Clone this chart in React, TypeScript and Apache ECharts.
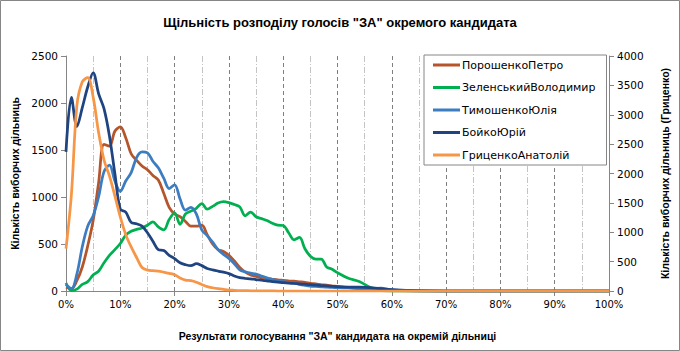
import React, { useEffect, useRef } from "react";
import * as echarts from "echarts";

const pcts = [
  0, 1, 2, 3, 4, 5, 6, 7, 8, 9, 10, 11, 12, 13, 14, 15, 16, 17, 18, 19, 20,
  21, 22, 23, 24, 25, 26, 27, 28, 29, 30, 31, 32, 33, 34, 35, 36, 37, 38, 39, 40,
  41, 42, 43, 44, 45, 46, 47, 48, 49, 50, 52, 54, 56, 58, 60, 65, 70, 75, 80, 85,
  90, 95, 100,
];

const poroshenko = [
  40, 25, 110, 255, 480, 750, 1150, 1560, 1540, 1700, 1745, 1630, 1460, 1390, 1330, 1290, 1230, 1180, 1040, 890, 820,
  790, 740, 690, 690, 700, 600, 500, 440, 420, 380, 320, 250, 200, 170, 155, 140, 132, 125, 118, 113,
  108, 104, 98, 92, 82, 75, 68, 62, 55, 48, 35, 25, 15, 8, 3, 0, 0, 0, 0, 0,
  0, 0, 0,
];

const zelensky = [
  85, 5, 20, 70, 100, 170, 210, 300, 380, 440, 505, 595, 636, 655, 670, 700, 735, 682, 650, 760, 830,
  710, 820, 850, 880, 930, 870, 900, 935, 950, 940, 920, 895, 800, 840, 790, 770, 750, 720, 700, 697,
  620, 545, 570, 450, 370, 340, 340, 255, 232, 195, 135, 100, 40, 5, 0, 0, 0, 0, 0, 0,
  0, 0, 0,
];

const tymoshenko = [
  70, 25, 180, 470, 690, 800, 1000, 1270, 1340, 1170, 1060, 1170, 1260, 1420, 1480, 1470, 1380, 1310, 1200, 1090, 1130,
  980, 860, 890, 820, 650, 590, 520, 440, 390, 345, 290, 225, 205, 190, 180, 160, 140, 125, 110, 100,
  92, 85, 70, 60, 52, 48, 44, 40, 38, 36, 32, 30, 28, 30, 12, 0, 0, 0, 0, 0,
  0, 0, 0,
];

const boyko = [
  1480, 2060, 1750, 1950, 2170, 2320, 2100, 1940, 1650, 1250, 870, 840, 730, 715, 690, 620, 530, 440, 430, 380, 345,
  300, 280, 270, 290, 270, 240, 225, 212, 200, 185, 160, 142, 135, 130, 122, 115, 108, 100, 95, 88,
  85, 80, 76, 72, 68, 62, 58, 54, 50, 46, 42, 40, 35, 25, 15, 3, 0, 0, 0, 0,
  0, 0, 0,
];

const hrytsenko = [
  720, 1650, 3150, 3560, 3630, 3300, 2700, 2230, 1960, 1620, 1260, 960, 750, 570, 400, 355, 345, 340, 320, 300, 278,
  220, 185, 175, 150, 110, 75, 55, 40, 28, 17, 12, 8, 6, 4, 3, 2, 2, 1, 0, 0,
  0, 0, 0, 0, 0, 0, 0, 0, 0, 0, 0, 0, 0, 0, 0, 0, 0, 0, 0, 0,
  0, 0, 0,
];

const seriesNames = [
  "ПорошенкоПетро",
  "ЗеленськийВолодимир",
  "ТимошенкоЮлія",
  "БойкоЮрій",
  "ГриценкоАнатолій",
];
const seriesValues = [poroshenko, zelensky, tymoshenko, boyko, hrytsenko];
const seriesAxis = [0, 0, 0, 0, 1];
const colors = ["#B5552C", "#00B050", "#3C7DC1", "#1F4480", "#F79646"];

const leftTicks = [0, 500, 1000, 1500, 2000, 2500];
const rightTicks = [0, 500, 1000, 1500, 2000, 2500, 3000, 3500, 4000];

const titleText = 'Щільність розподілу голосів "ЗА" окремого кандидата';
const xName = 'Результати голосування "ЗА" кандидата на окремій дільниці';
const yLeftName = "Кількість виборчих дільниць";
const yRightName = "Кількість виборчих дільниць (Гриценко)";

const FONT = "'DejaVu Sans', Verdana, sans-serif";
const BOLD_FONT = "'Liberation Sans', Arial, sans-serif";

export default function App() {
  const ref = useRef<HTMLDivElement>(null);

  useEffect(() => {
    if (!ref.current) return;
    const chart = echarts.init(ref.current, undefined, { renderer: "svg" });
    const axisGray = "#868686";
    const plain = (v: number) => String(v);
    chart.setOption({
      animation: false,
      backgroundColor: "#ffffff",
      title: {
        text: titleText,
        left: "center",
        top: 11,
        textStyle: {
          fontFamily: BOLD_FONT,
          fontSize: 13,
          fontWeight: "bold",
          color: "#000",
        },
      },
      graphic: [
        {
          type: "rect",
          shape: { x: 0.5, y: 0.5, width: 679, height: 350 },
          style: { fill: "none", stroke: "#868686", lineWidth: 1 },
          silent: true,
        },
      ],
      legend: {
        orient: "vertical",
        left: 424,
        top: 55,
        padding: [3, 11, 3, 9],
        itemGap: 8.5,
        itemWidth: 27,
        itemHeight: 3,
        icon: "rect",
        borderColor: "#868686",
        borderWidth: 1,
        backgroundColor: "#fff",
        textStyle: {
          fontFamily: FONT,
          fontSize: 11,
          color: "#000",
          lineHeight: 14,
          padding: [0, 0, 0, -3],
        },
        data: seriesNames,
      },
      grid: { left: 66, right: 71, top: 56, bottom: 60 },
      xAxis: {
        type: "value",
        min: 0,
        max: 100,
        interval: 10,
        name: xName,
        nameLocation: "middle",
        nameGap: 39,
        nameTextStyle: {
          fontFamily: BOLD_FONT,
          fontSize: 10.5,
          fontWeight: "bold",
          color: "#000",
        },
        axisLine: { show: true, onZero: false, lineStyle: { color: axisGray } },
        axisTick: { show: true, length: 5, lineStyle: { color: axisGray } },
        axisLabel: {
          formatter: (v: number) => v + "%",
          fontFamily: FONT,
          fontSize: 10,
          color: "#000",
          margin: 8,
        },
        splitLine: {
          show: true,
          lineStyle: { color: "#7f7f7f", type: [4, 3], width: 1 },
        },
        minorTick: { show: false, splitNumber: 2 },
        minorSplitLine: {
          show: true,
          lineStyle: { color: "#c4c4c4", type: [6, 2, 1, 2], width: 1 },
        },
      },
      yAxis: [
        {
          type: "value",
          min: leftTicks[0],
          max: leftTicks[leftTicks.length - 1],
          interval: 500,
          name: yLeftName,
          nameLocation: "middle",
          nameRotate: 90,
          nameGap: 45,
          nameTextStyle: {
            fontFamily: BOLD_FONT,
            fontSize: 10.5,
            fontWeight: "bold",
            color: "#000",
          },
          axisLine: { show: true, lineStyle: { color: axisGray } },
          axisTick: { show: true, length: 5, lineStyle: { color: axisGray } },
          axisLabel: { formatter: plain, fontFamily: FONT, fontSize: 10.5, color: "#000", margin: 8 },
          splitLine: { show: false },
        },
        {
          type: "value",
          position: "right",
          min: rightTicks[0],
          max: rightTicks[rightTicks.length - 1],
          interval: 500,
          name: yRightName,
          nameLocation: "middle",
          nameRotate: 90,
          nameGap: 50,
          nameTextStyle: {
            fontFamily: BOLD_FONT,
            fontSize: 10.5,
            fontWeight: "bold",
            color: "#000",
          },
          axisLine: { show: true, lineStyle: { color: axisGray } },
          axisTick: { show: true, length: 5, lineStyle: { color: axisGray } },
          axisLabel: { formatter: plain, fontFamily: FONT, fontSize: 10.5, color: "#000", margin: 8 },
          splitLine: { show: false },
        },
      ],
      series: seriesNames.map((name, i) => ({
        name,
        type: "line",
        yAxisIndex: seriesAxis[i],
        data: pcts.map((p, j) => [p, seriesValues[i][j]]),
        smooth: 0.35,
        showSymbol: false,
        symbol: "none",
        color: colors[i],
        lineStyle: { width: 2.75, color: colors[i] },
        z: 2 + i,
      })),
    });
    return () => chart.dispose();
  }, []);

  return (
    <div
      ref={ref}
      style={{ position: "fixed", left: 0, top: 0, width: 680, height: 351 }}
    />
  );
}
